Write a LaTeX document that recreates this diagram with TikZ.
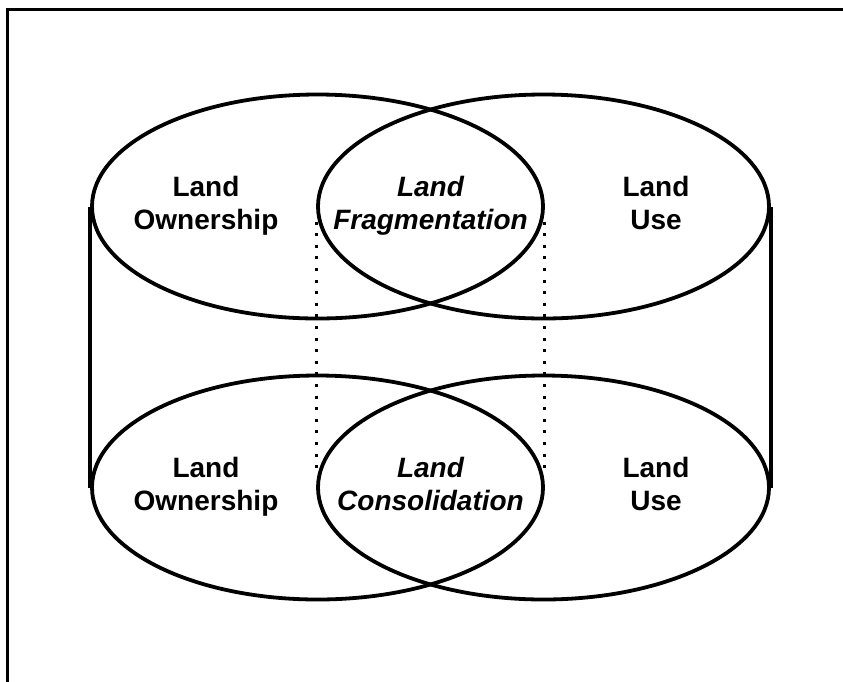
\documentclass[tikz,border=0pt]{standalone}
\usepackage{fontspec}
\setmainfont{Liberation Sans}
\usepackage{xcolor}
\usepackage{tikz}
\usetikzlibrary{positioning, shapes.geometric, calc}
\definecolor{setline}{HTML}{000000}

\begin{document}
\begin{tikzpicture}[x=1pt, y=-1pt,
    landset/.style={ellipse, draw=setline, line width=3.8pt, inner sep=0pt,
                    minimum width=451pt, minimum height=224pt},
    setlabel/.style={align=center, inner sep=0pt, anchor=north,
                     font=\fontsize{28}{33}\selectfont\bfseries},
    corelabel/.style={setlabel, font=\fontsize{28}{33}\selectfont\bfseries\itshape},
    dotline/.style={line width=3pt, dash pattern=on 3pt off 8.6pt}]
    \useasboundingbox (0,0) rectangle (843,681);
    \draw[line width=3.8pt] (7.5,690) |- (850,9.5);

    % top pair
    \node[landset] (tl) at (317.5,206.5) {};
    \node[landset] (tr) at (543.5,206.5) {};
    % bottom pair
    \node[landset] (bl) at (317.5,487.5) {};
    \node[landset] (br) at (543.5,487.5) {};

    \draw[line width=3.8pt] (tl.west) -- (bl.west);
    \draw[line width=3.8pt] (tr.east) -- (br.east);
    \draw[dotline] ([yshift=-15pt]tr.west) -- ([yshift=15pt]br.west);
    \draw[dotline] ([yshift=-15pt]tl.east) -- ([yshift=15pt]bl.east);

    \node[setlabel] (own1) at (206,176) {Land\\Ownership};
    \node[corelabel] (frag) at (430.5,176) {Land\\Fragmentation};
    \node[setlabel] (use1) at (656,176) {Land\\Use};
    \node[setlabel] (own2) at (206,457) {Land\\Ownership};
    \node[corelabel] (cons) at (430.5,457) {Land\\Consolidation};
    \node[setlabel] (use2) at (656,457) {Land\\Use};
\end{tikzpicture}
\end{document}
